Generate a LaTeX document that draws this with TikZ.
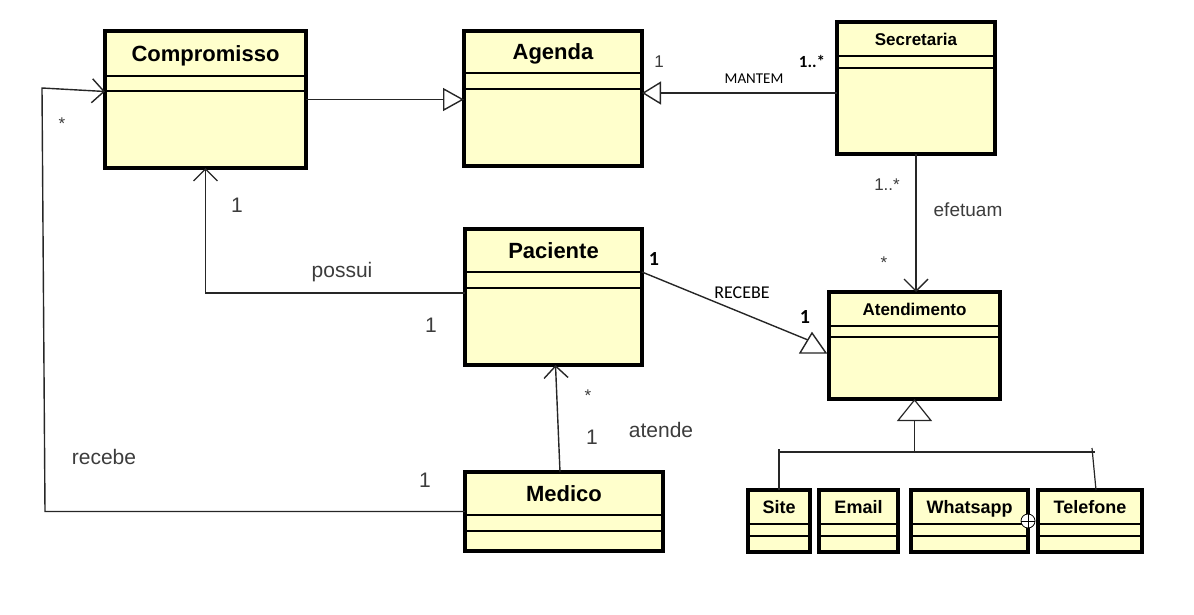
\documentclass[tikz,border=0pt]{standalone}
\usepackage{fontspec}
\setmainfont{Liberation Sans}
\newfontfamily\calibri{Carlito}
\usepackage{tikz}
\usetikzlibrary{arrows.meta, calc}

\definecolor{umlyellow}{RGB}{255,255,204}
\definecolor{lblgray}{RGB}{60,60,60}

\tikzset{
  classbox/.style={draw, line width=3.5pt, fill=umlyellow, inner sep=0pt, outer sep=0pt, anchor=north west},
  sepline/.style={line width=1.2pt},
  assoc/.style={line width=1.4pt, draw=black!85},
  lbl/.style={text=lblgray, inner sep=0pt, font=\fontsize{21}{23}\selectfont},
  cal/.style={inner sep=0pt, font=\calibri\fontsize{15}{17}\selectfont},
}

% class box: name, x, y, width, height, first line, second line, title, size
\newcommand{\umlclass}[9]{%
  \node[classbox, minimum width=#4pt, minimum height=#5pt] (#1) at (#2,#3) {};
  \draw[sepline] ($(#1.north west)+(0,#6)$) -- ($(#1.north east)+(0,#6)$);
  \draw[sepline] ($(#1.north west)+(0,#7)$) -- ($(#1.north east)+(0,#7)$);
  \node[inner sep=0pt, anchor=base, font=\bfseries\fontsize{#9}{#9}\selectfont] at ($(#1.north)+(0,#6/2+0.36*#9)$) {#8};
}

\begin{document}
\begin{tikzpicture}[x=1pt,y=1pt,yscale=-1,xscale=1]
\useasboundingbox (0,0) rectangle (1194,614);

% classes
\umlclass{comp}{105}{31}{201}{137}{45}{60}{Compromisso}{22}
\umlclass{agenda}{464}{31}{178}{135}{42}{58}{Agenda}{22}
\umlclass{sec}{837}{22}{158}{132}{34}{46}{Secretaria}{17}
\umlclass{pac}{465}{229}{177}{136}{43}{59}{Paciente}{22}
\umlclass{aten}{829}{292}{171}{107}{34}{45}{Atendimento}{17}
\umlclass{med}{465}{472}{198}{79}{43}{59}{Medico}{22}
\umlclass{site}{748}{490}{62}{62}{34}{46}{Site}{18}
\umlclass{email}{819}{490}{79}{62}{34}{46}{Email}{18}
\umlclass{whats}{911}{490}{117}{62}{34}{46}{Whatsapp}{18}
\umlclass{tel}{1038}{490}{104}{62}{34}{46}{Telefone}{18}

% Compromisso -> Agenda
\draw[assoc, -{Triangle[open, length=21pt, width=23pt]}] (comp.east) -- (comp.east -| agenda.west);

% Secretaria -> Agenda
\draw[assoc, -{Triangle[open, length=19pt, width=23pt]}] ($(sec.west)+(0,5)$) -- ($(agenda.east)+(0,-5.5)$);
\node[lbl, font=\fontsize{17}{19}\selectfont] at (659,62) {1};
\node[cal] at (754,79) {MANTEM};
\node[cal, font=\calibri\bfseries\fontsize{17}{19}\selectfont] at (812,61) {1..*};

% Secretaria -> Atendimento
\draw[assoc, -{Straight Barb[length=12pt, width=24pt]}] (sec.south) -- (sec.south |- aten.north);
\node[lbl, font=\fontsize{17}{19}\selectfont] at (887,185) {1..*};
\node[lbl, font=\fontsize{19}{21}\selectfont] at (968,210) {efetuam};
\node[lbl, font=\fontsize{17}{19}\selectfont] at (884,263) {*};

% Paciente -> Atendimento
\coordinate (recebeEnd) at ($(aten.north west)+(-21,48)$);
\draw[assoc] ($(pac.north east)+(0,43)$) -- (recebeEnd);
\draw[assoc, fill=white] ($(aten.north west)+(-17,41)$) -- ($(aten.north west)+(-29,61)$) -- ($(aten.north west)+(-3,61)$) -- cycle;
\node[cal, font=\calibri\bfseries\fontsize{20}{22}\selectfont] at (654,259) {1};
\node[cal, font=\calibri\fontsize{18}{20}\selectfont] at (742,293) {RECEBE};
\node[cal, font=\calibri\bfseries\fontsize{20}{22}\selectfont] at (805,317) {1};

% Paciente -> Compromisso
\draw[assoc, -{Straight Barb[length=12pt, width=24pt]}] ($(pac.north west)+(0,64)$) -| (comp.south);
\node[lbl] at (237,205) {1};
\node[lbl] at (342,272) {possui};
\node[lbl] at (431,325) {1};

% Medico -> Paciente
\draw[assoc, -{Straight Barb[length=12pt, width=24pt]}] ($(med.north)+(-4,0)$) -- ($(pac.south)+(2,0)$);
\node[lbl, font=\fontsize{17}{19}\selectfont] at (588,396) {*};
\node[lbl] at (592,437) {1};
\node[lbl] at (661,430) {atende};

% Medico -> Compromisso
\coordinate (loopA) at (45,511.5);
\coordinate (loopB) at (42,88);
\draw[assoc, -{Straight Barb[length=12pt, width=24pt]}] (med.west) -- (loopA) -- (loopB) -- ($(comp.west)+(0,-8)$);
\node[lbl, font=\fontsize{17}{19}\selectfont] at (62,124) {*};
\node[lbl] at (104,457) {recebe};
\node[lbl] at (425,480) {1};

% generalisation of Atendimento
\coordinate (genBar) at ($(aten.south)+(0,53)$);
\draw[assoc, line width=1.2pt, -{Triangle[open, length=22pt, width=35pt]}] (genBar) -- (aten.south);
\draw[assoc, line width=1.2pt] (site.north) -- ($(site.north |- genBar)+(0,-3)$);
\draw[assoc, line width=1.2pt] (site.north |- genBar) -- (1095,452);
\draw[assoc, line width=1.2pt] ($(tel.north)+(6,0)$) -- (1092,448);

% nesting mark
\draw[line width=0.8pt, fill=white] (whats.east) circle [radius=7pt];
\draw[line width=0.8pt] ($(whats.east)+(-7,0)$) -- ($(whats.east)+(7,0)$);
\draw[line width=0.8pt] ($(whats.east)+(0,-7)$) -- ($(whats.east)+(0,7)$);

\end{tikzpicture}
\end{document}
